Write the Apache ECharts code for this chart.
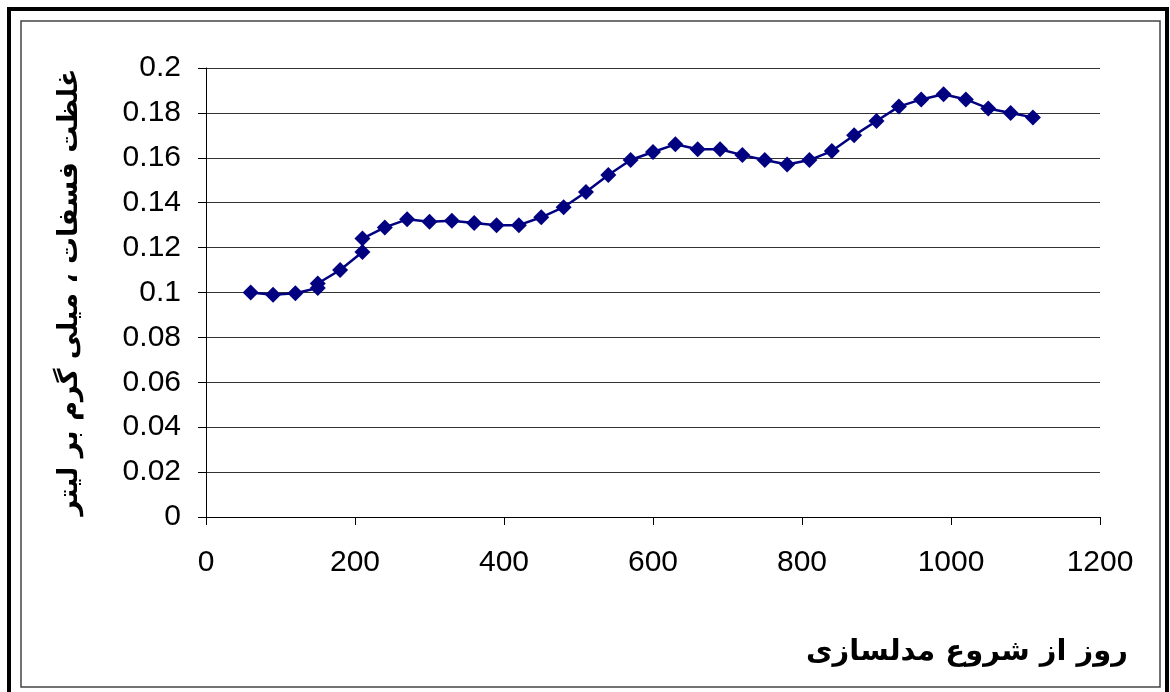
<!DOCTYPE html>
<html><head><meta charset="utf-8">
<script src="https://cdn.jsdelivr.net/npm/echarts@6/dist/echarts.min.js"></script>
<style>html,body{margin:0;padding:0;background:#fff}#c{width:1170px;height:692px}</style>
</head><body><div id="c"></div>
<script>
const days = [60,90,120,150,150,180,210,210,240,270,300,330,360,390,420,450,480,510,540,570,600,630,660,690,720,750,780,810,840,870,900,930,960,990,1020,1050,1080,1110];
const phosphate = [0.100,0.099,0.0997,0.102,0.104,0.110,0.118,0.124,0.129,0.1326,0.1315,0.132,0.131,0.130,0.130,0.1335,0.138,0.1448,0.1523,0.159,0.1626,0.166,0.1638,0.1638,0.1612,0.159,0.157,0.159,0.163,0.170,0.1764,0.1828,0.186,0.1883,0.186,0.182,0.180,0.178];
const yTitle = 'غلظت فسفات ، میلی گرم بر لیتر';
const xTitle = 'روز از شروع مدلسازی';

const chart = echarts.init(document.getElementById('c'));
chart.setOption({
  animation:false,
  backgroundColor:'#fff',
  grid:{left:206,right:70,top:68,bottom:175},
  xAxis:{type:'value',min:0,max:1200,interval:200,
    axisLine:{show:true,lineStyle:{color:'#000',width:1}},
    axisTick:{show:true,inside:false,length:8,lineStyle:{color:'#000'}},
    axisLabel:{color:'#000',fontSize:30,fontFamily:'Liberation Sans',margin:31,
      formatter:v=>String(v)},
    splitLine:{show:false}},
  yAxis:{type:'value',min:0,max:0.2,interval:0.02,
    axisLine:{show:true,lineStyle:{color:'#000',width:1}},
    axisTick:{show:true,length:8,lineStyle:{color:'#000'}},
    axisLabel:{color:'#000',fontSize:30,fontFamily:'Liberation Sans',margin:25,
      formatter:v=>String(parseFloat(v.toFixed(4)))},
    splitLine:{show:true,lineStyle:{color:'#333',width:1}}},
  series:[{type:'line',data:days.map((d,i)=>[d,phosphate[i]]),
    symbol:'diamond',symbolSize:16,
    lineStyle:{color:'#000080',width:2.5},
    itemStyle:{color:'#000080'}}],
  graphic:[
    {type:'rect',shape:{x:9,y:9,width:1158,height:700},style:{fill:'none',stroke:'#000',lineWidth:4},silent:true},
    {type:'rect',shape:{x:21,y:21,width:1139,height:666},style:{fill:'none',stroke:'#444',lineWidth:1.5},silent:true},
    {type:'text',x:70,y:292,rotation:Math.PI/2,
      style:{text:yTitle,font:'bold 27px "DejaVu Sans"',fill:'#000',textAlign:'center',textVerticalAlign:'middle'}},
    {type:'text',x:1128,y:652,
      style:{text:xTitle,font:'bold 29px "DejaVu Sans"',fill:'#000',textAlign:'right',textVerticalAlign:'middle'}}
  ]
});
</script></body></html>
